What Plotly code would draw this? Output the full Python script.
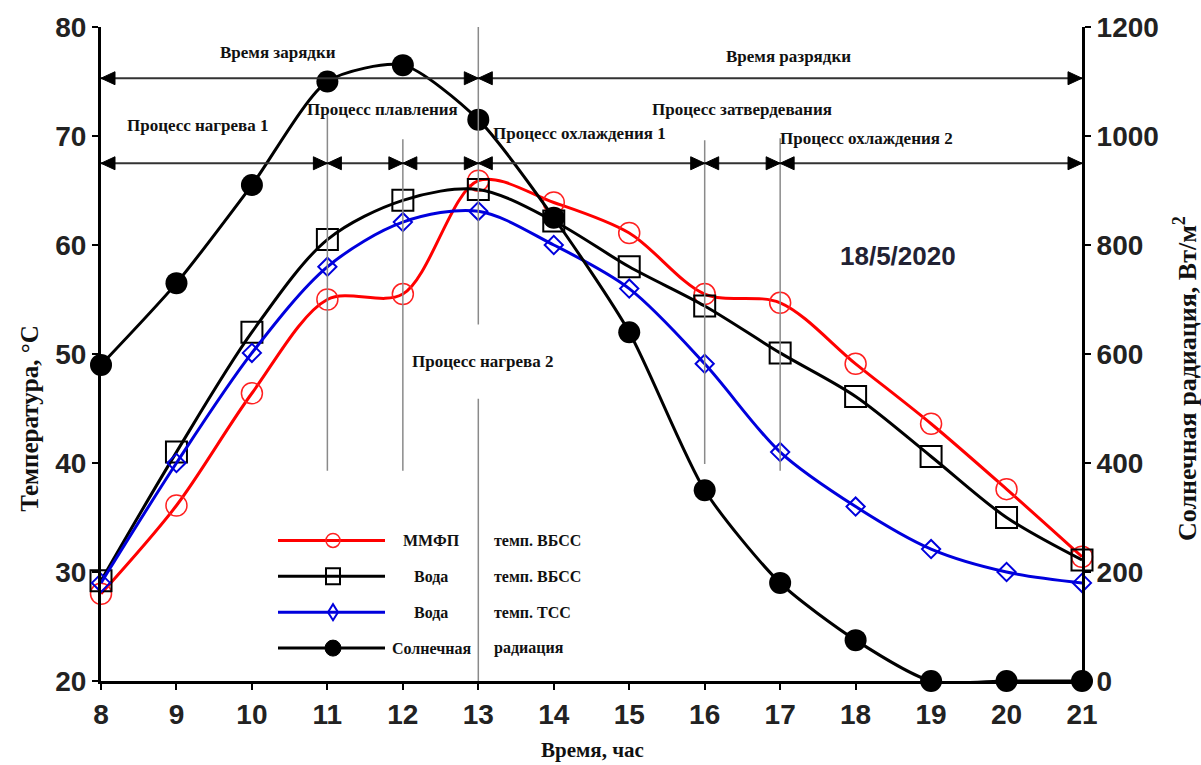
import plotly.graph_objects as go

# ---------------- data ----------------
hours = [8, 9, 10, 11, 12, 13, 14, 15, 16, 17, 18, 19, 20, 21]
t_mmfp_vbss = [28.0, 36.1, 46.4, 55.0, 55.5, 65.9, 63.9, 61.1, 55.5, 54.7, 49.1, 43.6, 37.6, 31.4]
t_water_vbss = [29.2, 41.0, 52.0, 60.5, 64.1, 65.1, 62.2, 58.0, 54.4, 50.1, 46.1, 40.6, 35.0, 31.1]
t_water_tss = [29.0, 40.0, 50.1, 58.0, 62.1, 63.1, 60.0, 56.0, 49.1, 41.0, 36.0, 32.1, 30.0, 29.0]
solar = [580, 730, 910, 1100, 1130, 1030, 850, 640, 350, 180, 75, 0, 0, 0]

x_ticks = list(range(8, 22))
y_ticks = [20, 30, 40, 50, 60, 70, 80]
y2_ticks = [0, 200, 400, 600, 800, 1000, 1200]

# process boundaries (hours)
row1_bounds = [8, 13, 21]
row2_bounds = [8, 11, 12, 13, 16, 17, 21]

# ---------------- layout geometry ----------------
W, H = 1201, 765
L, R, T, B = 101, 119, 25, 84
PW, PH = W - L - R, H - T - B


def px(x):
    return (x - L) / PW


def py(y):
    return (H - B - y) / PH


SERIF = "Liberation Serif, Times New Roman, serif"
SANS = "Liberation Sans, Arial, sans-serif"

fig = go.Figure()

fig.add_trace(go.Scatter(
    x=hours, y=t_mmfp_vbss, mode="lines+markers", name="ММФП темп. ВБСС",
    line=dict(color="#ff0000", width=3, shape="spline", smoothing=0.9),
    marker=dict(symbol="circle-open", size=21, color="#ff2020", line=dict(width=1.5)),
    cliponaxis=False, showlegend=False))
fig.add_trace(go.Scatter(
    x=hours, y=t_water_vbss, mode="lines+markers", name="Вода темп. ВБСС",
    line=dict(color="#000000", width=3, shape="spline", smoothing=0.9),
    marker=dict(symbol="square-open", size=21, color="#000000", line=dict(width=2)),
    cliponaxis=False, showlegend=False))
fig.add_trace(go.Scatter(
    x=hours, y=t_water_tss, mode="lines+markers", name="Вода темп. ТСС",
    line=dict(color="#0000dd", width=3, shape="spline", smoothing=0.9),
    marker=dict(symbol="diamond-open", size=14, color="#0000dd", line=dict(width=2)),
    cliponaxis=False, showlegend=False))
fig.add_trace(go.Scatter(
    x=hours, y=solar, mode="lines+markers", name="Солнечная радиация", yaxis="y2",
    line=dict(color="#000000", width=3, shape="spline", smoothing=0.7),
    marker=dict(symbol="circle", size=22, color="#000000"),
    cliponaxis=False, showlegend=False))

shapes = []
annotations = []

# vertical process lines (data coords)
vcol = "#8a8a8a"
for (xv, y0, y1) in [(11, 39.3, 72.0), (12, 39.3, 69.7), (16, 39.9, 69.6), (17, 39.3, 69.8),
                     (13, 52.7, 80.0), (13, 20.0, 45.9)]:
    shapes.append(dict(type="line", xref="x", yref="y", x0=xv, x1=xv, y0=y0, y1=y1,
                       line=dict(color=vcol, width=1.5)))

# double-headed arrows: line + two filled triangle heads
acol = "#333333"
head_right = "M 0 0 L -14 6.5 L -14 -6.5 Z"
head_left = "M 0 0 L 14 6.5 L 14 -6.5 Z"
for yv, bounds in [(75.3, row1_bounds), (67.5, row2_bounds)]:
    for a, b in zip(bounds[:-1], bounds[1:]):
        shapes.append(dict(type="line", xref="x", yref="y", x0=a, x1=b, y0=yv, y1=yv,
                           line=dict(color=acol, width=2)))
        shapes.append(dict(type="path", xref="x", yref="y", xsizemode="pixel",
                           ysizemode="pixel", xanchor=b, yanchor=yv, path=head_right,
                           fillcolor="#000000", line=dict(color="#000000", width=1)))
        shapes.append(dict(type="path", xref="x", yref="y", xsizemode="pixel",
                           ysizemode="pixel", xanchor=a, yanchor=yv, path=head_left,
                           fillcolor="#000000", line=dict(color="#000000", width=1)))

# process texts
txt_font = dict(family=SERIF, size=17, color="#111111", weight="bold")
for text, xx, yy in [("Время зарядки", 10.34, 77.7), ("Время разрядки", 17.11, 77.3),
                     ("Процесс нагрева 1", 9.28, 71.0), ("Процесс плавления", 11.73, 72.4),
                     ("Процесс охлаждения 1", 14.34, 70.2), ("Процесс затвердевания", 16.49, 72.4),
                     ("Процесс охлаждения 2", 18.15, 69.8), ("Процесс нагрева 2", 13.06, 49.35)]:
    annotations.append(dict(x=xx, y=yy, xref="x", yref="y", text=text, showarrow=False,
                            xanchor="center", yanchor="middle", font=txt_font))

annotations.append(dict(x=18.56, y=59.0, xref="x", yref="y", text="18/5/2020", showarrow=False,
                        xanchor="center", yanchor="middle",
                        font=dict(family=SANS, size=26, color="#222233", weight="bold")))

# axis titles
annotations.append(dict(x=px(30), y=py(418), xref="paper", yref="paper", text="Температура, °С",
                        textangle=-90, showarrow=False, xanchor="center", yanchor="middle",
                        font=dict(family=SERIF, size=25, color="#111111", weight="bold")))
annotations.append(dict(x=px(592), y=py(750), xref="paper", yref="paper", text="Время, час",
                        showarrow=False, xanchor="center", yanchor="middle",
                        font=dict(family=SERIF, size=21, color="#111111", weight="bold")))
annotations.append(dict(x=px(1186), y=py(378), xref="paper", yref="paper",
                        text="Солнечная радиация, Вт/м<sup>2</sup>",
                        textangle=-90, showarrow=False, xanchor="center", yanchor="middle",
                        font=dict(family=SERIF, size=26, color="#111111", weight="bold")))

# custom legend
leg_rows = [540, 576, 612, 648]
leg_items = [("#ff0000", "circle-open", "ММФП", "темп. ВБСС"),
             ("#000000", "square-open", "Вода", "темп. ВБСС"),
             ("#0000dd", "diamond-open", "Вода", "темп. ТСС"),
             ("#000000", "circle", "Солнечная", "радиация")]
leg_font = dict(family=SERIF, size=16, color="#111111", weight="bold")
for yrow, (col, sym, lab1, lab2) in zip(leg_rows, leg_items):
    shapes.append(dict(type="line", xref="paper", yref="paper", x0=px(278), x1=px(385),
                       y0=py(yrow), y1=py(yrow), line=dict(color=col, width=3)))
    mx, my = px(333), py(yrow)
    if sym == "circle-open":
        shapes.append(dict(type="circle", xref="paper", yref="paper", xsizemode="pixel",
                           ysizemode="pixel", xanchor=mx, yanchor=my, x0=-7, x1=7, y0=-7, y1=7,
                           line=dict(color="#ff2020", width=1.5)))
    elif sym == "square-open":
        shapes.append(dict(type="rect", xref="paper", yref="paper", xsizemode="pixel",
                           ysizemode="pixel", xanchor=mx, yanchor=my, x0=-7, x1=7, y0=-8, y1=8,
                           line=dict(color=col, width=2)))
    elif sym == "diamond-open":
        shapes.append(dict(type="path", xref="paper", yref="paper", xsizemode="pixel",
                           ysizemode="pixel", xanchor=mx, yanchor=my,
                           path="M 0 -8 L 5 0 L 0 8 L -5 0 Z",
                           line=dict(color=col, width=2)))
    else:
        shapes.append(dict(type="circle", xref="paper", yref="paper", xsizemode="pixel",
                           ysizemode="pixel", xanchor=mx, yanchor=my, x0=-8, x1=8, y0=-8, y1=8,
                           fillcolor=col, line=dict(color=col, width=1)))
    annotations.append(dict(x=px(431), y=py(yrow), xref="paper", yref="paper", text=lab1,
                            showarrow=False, font=leg_font, xanchor="center", yanchor="middle"))
    annotations.append(dict(x=px(492), y=py(yrow), xref="paper", yref="paper", text=lab2,
                            showarrow=False, font=leg_font, xanchor="left", yanchor="middle"))

tick_font = dict(family=SANS, size=28, color="#222222", weight="bold")
axis_common = dict(showline=True, linewidth=3, linecolor="#000000", ticks="outside",
                   ticklen=6, tickwidth=2, tickcolor="#000000", showgrid=False,
                   zeroline=False, tickfont=tick_font)

fig.update_layout(
    width=W, height=H,
    margin=dict(l=L, r=R, t=T, b=B),
    paper_bgcolor="#ffffff", plot_bgcolor="#ffffff",
    xaxis=dict(range=[8, 21], tickvals=x_ticks, **axis_common),
    yaxis=dict(range=[20, 80], tickvals=y_ticks, **axis_common),
    yaxis2=dict(range=[0, 1200], tickvals=y2_ticks, overlaying="y", side="right",
                **axis_common),
    shapes=shapes,
    annotations=annotations,
    showlegend=False,
)

fig.write_html("out.html", config={"displayModeBar": False},
               post_script="document.body.style.margin='0px';")
